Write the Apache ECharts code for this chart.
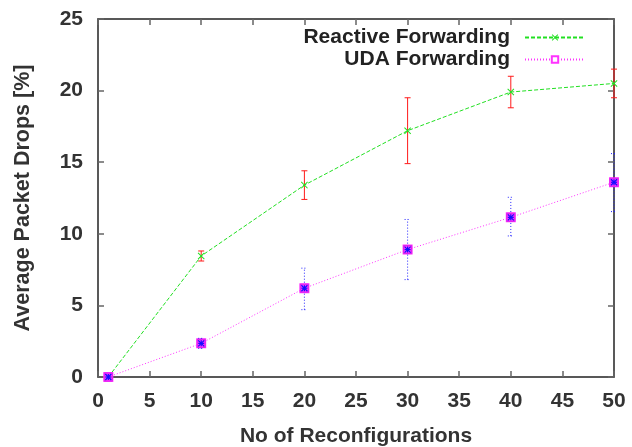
<!DOCTYPE html>
<html>
<head>
<meta charset="utf-8">
<script src="https://cdn.jsdelivr.net/npm/echarts@6/dist/echarts.min.js"></script>
<style>
  html, body { margin: 0; padding: 0; background: #fff; }
  #chart { width: 632px; height: 447px; }
</style>
</head>
<body>
<div id="chart"></div>
<script>
// number of reconfigurations
const xValues = [1, 10, 20, 30, 40, 50];

// Reactive Forwarding: mean and error range
const reactiveMean = [0, 8.45, 13.4, 17.2, 19.9, 20.5];
const reactiveLow  = [0, 8.1, 12.4, 14.9, 18.8, 19.5];
const reactiveHigh = [0, 8.8, 14.4, 19.5, 21.0, 21.5];

// UDA Forwarding: mean and error range
const udaMean = [0, 2.35, 6.2, 8.9, 11.15, 13.6];
const udaLow  = [0, 2.0, 4.7, 6.8, 9.85, 11.55];
const udaHigh = [0, 2.7, 7.6, 11.0, 12.55, 15.6];

const GREEN = '#22e022';
const MAGENTA = '#ff33ff';
const FONT = 'Liberation Sans';

let chart = echarts.init(document.getElementById('chart'));

// gnuplot-like error bars drawn with a custom series
function errorBars(color, dash, udaMarker) {
  return function (params, api) {
    let x = api.value(0), lo = api.value(1), hi = api.value(2), m = api.value(3);
    let pLo = api.coord([x, lo]);
    let pHi = api.coord([x, hi]);
    let pM = api.coord([x, m]);
    let style = { stroke: color, lineWidth: 1, lineDash: dash };
    let cap = 3;
    let children = [];
    if (hi > lo) {
      children.push(
        { type: 'line', shape: { x1: pLo[0], y1: pLo[1], x2: pHi[0], y2: pHi[1] }, style: style },
        { type: 'line', shape: { x1: pLo[0] - cap, y1: pLo[1], x2: pLo[0] + cap, y2: pLo[1] }, style: style },
        { type: 'line', shape: { x1: pHi[0] - cap, y1: pHi[1], x2: pHi[0] + cap, y2: pHi[1] }, style: style }
      );
    }
    if (udaMarker) {
      let s = 4;
      children.push({ type: 'rect', shape: { x: pM[0] - s, y: pM[1] - s, width: 2 * s, height: 2 * s },
        style: { fill: MAGENTA, stroke: '#dd22ee', lineWidth: 1 } });
      let a = 3, st = { stroke: '#1010ff', lineWidth: 1.2 };
      children.push(
        { type: 'line', shape: { x1: pM[0] - a, y1: pM[1], x2: pM[0] + a, y2: pM[1] }, style: st },
        { type: 'line', shape: { x1: pM[0], y1: pM[1] - a, x2: pM[0], y2: pM[1] + a }, style: st },
        { type: 'line', shape: { x1: pM[0] - a, y1: pM[1] - a, x2: pM[0] + a, y2: pM[1] + a }, style: st },
        { type: 'line', shape: { x1: pM[0] - a, y1: pM[1] + a, x2: pM[0] + a, y2: pM[1] - a }, style: st }
      );
    }
    return { type: 'group', children: children };
  };
}

const crossSymbol = 'path://M0,1L1,0L5,4L9,0L10,1L6,5L10,9L9,10L5,6L1,10L0,9L4,5Z';

let labelStyle = { fontFamily: FONT, fontSize: 21, fontWeight: 'bold', color: '#333' };

function mainAxis(min, max, extra) {
  return Object.assign({
    type: 'value',
    min: min,
    max: max,
    interval: 5,
    splitLine: { show: false },
    axisLine: { show: true, onZero: false, lineStyle: { color: '#222', width: 1.5 } },
    axisTick: { show: true, inside: true, length: 6, lineStyle: { color: '#666', width: 1.5 } },
    nameLocation: 'middle',
    nameTextStyle: labelStyle
  }, extra);
}

let option = {
  animation: false,
  backgroundColor: '#fff',
  grid: { left: 98, right: 18, top: 19, bottom: 70, containLabel: false, outerBoundsMode: 'none' },
  legend: [
    {
      data: ['Reactive Forwarding'],
      align: 'right', right: 46, top: 27, padding: 0,
      itemWidth: 60, itemHeight: 8,
      textStyle: Object.assign({}, labelStyle, { color: '#222', padding: [0, 10, 0, 0] })
    },
    {
      data: ['UDA Forwarding'],
      align: 'right', right: 46, top: 49, padding: 0,
      itemWidth: 60, itemHeight: 8,
      textStyle: Object.assign({}, labelStyle, { color: '#222', padding: [0, 10, 0, 0] })
    }
  ],
  xAxis: [
    mainAxis(0, 50, {
      position: 'bottom',
      name: 'No of Reconfigurations', nameGap: 49,
      axisLabel: Object.assign({ margin: 14 }, labelStyle)
    }),
    mainAxis(0, 50, { position: 'top', axisLabel: { show: false } })
  ],
  yAxis: [
    mainAxis(0, 25, {
      position: 'left',
      name: 'Average Packet Drops [%]', nameGap: 64,
      nameTextStyle: Object.assign({}, labelStyle, { fontSize: 21.5 }),
      axisLabel: Object.assign({ margin: 15 }, labelStyle)
    }),
    mainAxis(0, 25, { position: 'right', axisLabel: { show: false } })
  ],
  series: [
    {
      name: 'Reactive Forwarding',
      type: 'line',
      data: xValues.map((x, i) => [x, reactiveMean[i]]),
      symbol: crossSymbol,
      symbolSize: 7,
      clip: false,
      itemStyle: { color: GREEN },
      lineStyle: { color: GREEN, width: 1, type: [4, 2] },
      z: 3
    },
    {
      type: 'custom',
      data: xValues.map((x, i) => [x, reactiveLow[i], reactiveHigh[i], reactiveMean[i]]),
      encode: { x: 0, y: [1, 2, 3] },
      renderItem: errorBars('#ff1a1a', null, false),
      clip: false,
      z: 2
    },
    {
      name: 'UDA Forwarding',
      type: 'line',
      data: xValues.map((x, i) => [x, udaMean[i]]),
      symbol: 'emptyRect',
      symbolSize: 8,
      clip: false,
      itemStyle: { color: MAGENTA },
      lineStyle: { color: MAGENTA, width: 1, type: [1, 2] },
      z: 3
    },
    {
      type: 'custom',
      data: xValues.map((x, i) => [x, udaLow[i], udaHigh[i], udaMean[i]]),
      encode: { x: 0, y: [1, 2, 3] },
      renderItem: errorBars('#2222ff', [1, 2], true),
      clip: false,
      z: 4
    }
  ]
};

chart.setOption(option);
</script>
</body>
</html>
